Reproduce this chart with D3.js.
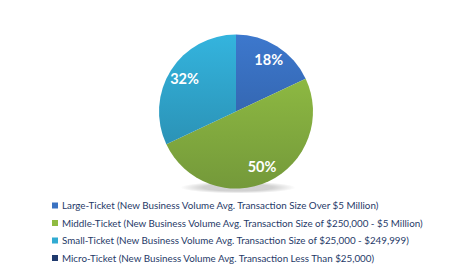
<!DOCTYPE html>
<html><head><meta charset="utf-8">
<script src="https://cdn.jsdelivr.net/npm/d3@7"></script>
<style>body{margin:0;background:#fff}svg{display:block}</style>
</head><body><svg id="c" width="475" height="275"></svg>
<script>
const categories = [
  "Large-Ticket (New Business Volume Avg. Transaction Size Over $5 Million)",
  "Middle-Ticket (New Business Volume Avg. Transaction Size of $250,000 - $5 Million)",
  "Small-Ticket (New Business Volume Avg. Transaction Size of $25,000 - $249,999)",
  "Micro-Ticket (New Business Volume Avg. Transaction Less Than $25,000)"
];
const values = [18, 50, 32, 0];
const colors = ["#3a72c2", "#8fbb41", "#31abd2", "#1f3a6d"];
const darkColors = ["#2c5799", "#74993a", "#2785a6", "#17305a"];

const svg = d3.select("#c");
const cx = 236, cy = 111.5, r = 77;
const defs = svg.append("defs");
colors.forEach((c, i) => {
  const g = defs.append("linearGradient").attr("id", "g" + i)
    .attr("gradientUnits", "userSpaceOnUse")
    .attr("x1", 0).attr("y1", -r).attr("x2", 0).attr("y2", r);
  g.append("stop").attr("offset", 0).attr("stop-color", d3.color(c).brighter(0.15));
  g.append("stop").attr("offset", 1).attr("stop-color", darkColors[i]);
});
const rg = defs.append("radialGradient").attr("id", "sh");
rg.append("stop").attr("offset", 0.6).attr("stop-color", "#000").attr("stop-opacity", 0.18);
rg.append("stop").attr("offset", 1).attr("stop-color", "#000").attr("stop-opacity", 0);

const g = svg.append("g").attr("transform", `translate(${cx},${cy})`);
g.append("ellipse").attr("cx", 2).attr("cy", r - 1).attr("rx", r * 0.75).attr("ry", 6).attr("fill", "url(#sh)");

const pie = d3.pie().sort(null).value(d => d);
const arcs = pie(values);
const arc = d3.arc().innerRadius(0).outerRadius(r);
const labelArc = d3.arc().innerRadius(61).outerRadius(61);

g.selectAll("path.s").data(arcs).join("path").attr("class", "s")
  .attr("d", arc).attr("fill", (d, i) => `url(#g${i})`);

g.selectAll("text.l").data(arcs.filter(d => d.value > 0)).join("text").attr("class", "l")
  .attr("transform", d => `translate(${labelArc.centroid(d)})`)
  .attr("text-anchor", "middle").attr("dy", "0.36em")
  .attr("font-family", "Lato, 'Open Sans', sans-serif").attr("font-weight", "bold")
  .attr("font-size", 14.5).attr("fill", "#fff")
  .text(d => d.value + "%");

const legendY = [206, 223.5, 241, 258.5];
const lg = svg.append("g");
categories.forEach((c, i) => {
  lg.append("rect").attr("x", 52).attr("y", legendY[i] - 3.5).attr("width", 6).attr("height", 6)
    .attr("fill", colors[i]);
  lg.append("text").attr("x", 62).attr("y", legendY[i]).attr("dy", "0.35em")
    .attr("font-family", "Lato, sans-serif").attr("font-size", 9.8).attr("fill", "#1f3a68")
    .text(c);
});
</script></body></html>
